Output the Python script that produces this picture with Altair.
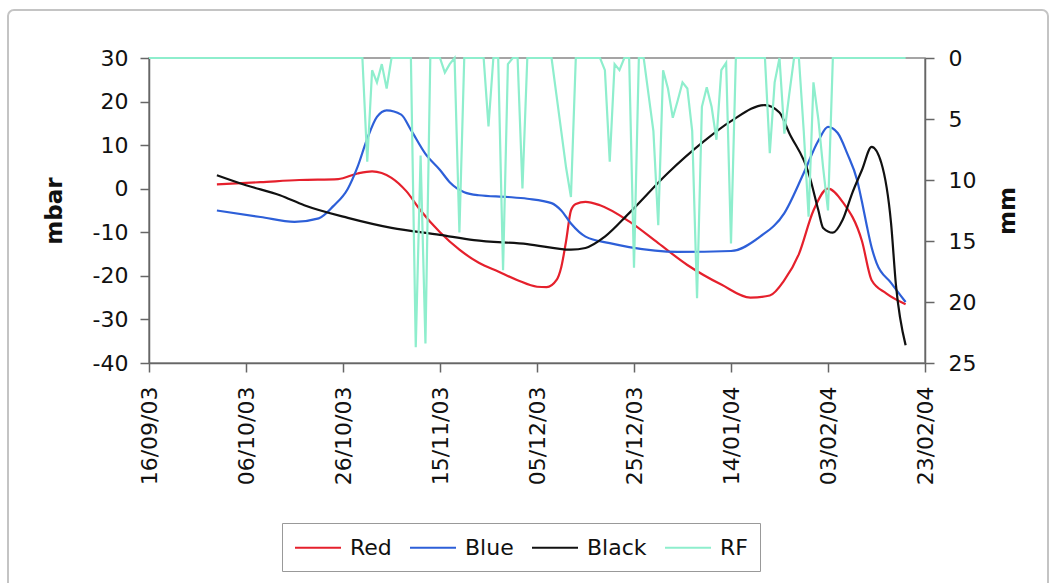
import altair as alt
import pandas as pd

# ---------------- data ----------------
red_dates = ["2003-09-30", "2003-10-09", "2003-10-17", "2003-10-25", "2003-10-29", "2003-11-01",
             "2003-11-05", "2003-11-08", "2003-11-11", "2003-11-15", "2003-11-19", "2003-11-23",
             "2003-11-27", "2003-12-01", "2003-12-05", "2003-12-07", "2003-12-09", "2003-12-10",
             "2003-12-11", "2003-12-12", "2003-12-13", "2003-12-15", "2003-12-18", "2003-12-24",
             "2003-12-30", "2004-01-05", "2004-01-12", "2004-01-18", "2004-01-22", "2004-01-25",
             "2004-01-28", "2004-01-31", "2004-02-03", "2004-02-06", "2004-02-10", "2004-02-12",
             "2004-02-15", "2004-02-19"]
red_vals = [1.0, 1.5, 2.0, 2.2, 3.5, 4.0,
            2.5, -0.5, -5.0, -10.0, -14.0, -17.0,
            -19.0, -21.0, -22.5, -22.6, -21.0, -18.0,
            -12.0, -5.0, -3.5, -3.0, -3.8, -7.5,
            -12.5, -17.5, -22.0, -25.0, -24.5, -21.0,
            -15.0, -5.0, 0.0, -3.0, -12.0, -21.0,
            -24.0, -26.5]

blue_dates = ["2003-09-30", "2003-10-09", "2003-10-16", "2003-10-21", "2003-10-24", "2003-10-27",
              "2003-10-29", "2003-10-31", "2003-11-02", "2003-11-04", "2003-11-07", "2003-11-09",
              "2003-11-12", "2003-11-15", "2003-11-17", "2003-11-20", "2003-11-23", "2003-11-29",
              "2003-12-03", "2003-12-08", "2003-12-10", "2003-12-12", "2003-12-15", "2003-12-20",
              "2003-12-24", "2004-01-03", "2004-01-14", "2004-01-20", "2004-01-25", "2004-01-29",
              "2004-02-01", "2004-02-03", "2004-02-05", "2004-02-07", "2004-02-09", "2004-02-10",
              "2004-02-11", "2004-02-12", "2004-02-13", "2004-02-16", "2004-02-19"]
blue_vals = [-5.0, -6.5, -7.6, -6.8, -4.0, 0.0,
             5.0, 11.5, 16.5, 18.0, 17.0, 13.5,
             8.0, 4.3, 1.5, -0.8, -1.5, -1.9,
             -2.3, -3.3, -5.0, -8.0, -11.0, -12.5,
             -13.4, -14.5, -14.3, -11.0, -5.6, 3.6,
             11.0, 14.2, 12.8, 8.0, 2.0, -3.0,
             -8.5, -13.5, -17.0, -21.6, -26.0]

black_dates = ["2003-09-30", "2003-10-06", "2003-10-13", "2003-10-18", "2003-10-27", "2003-11-05",
               "2003-11-15", "2003-11-22", "2003-12-03", "2003-12-12", "2003-12-15", "2003-12-19",
               "2003-12-24", "2004-01-01", "2004-01-08", "2004-01-14", "2004-01-21", "2004-01-24",
               "2004-01-26", "2004-01-30", "2004-02-01", "2004-02-02", "2004-02-04", "2004-02-06",
               "2004-02-08", "2004-02-10", "2004-02-12", "2004-02-14", "2004-02-16", "2004-02-17",
               "2004-02-19"]
black_vals = [3.1, 0.8, -1.5, -3.8, -6.7, -9.0,
              -10.6, -11.8, -12.7, -14.0, -13.6, -11.0,
              -5.6, 3.6, 10.5, 15.5, 19.2, 17.5,
              12.8, 3.6, -4.9, -9.0, -10.1, -7.2,
              -1.0, 4.3, 9.6, 5.9, -7.9, -22.0,
              -35.9]

# daily rainfall (mm) from 16/09/03 to 19/02/04
rf_start = "2003-09-16"
rf_mm = [0, 0, 0, 0, 0, 0, 0, 0, 0, 0,
         0, 0, 0, 0, 0, 0, 0, 0, 0, 0,
         0, 0, 0, 0, 0, 0, 0, 0, 0, 0,
         0, 0, 0, 0, 0, 0, 0, 0, 0, 0,
         0, 0, 0, 0, 0, 8.5, 1, 2, 0.5, 2.5,
         0, 0, 0, 0, 0, 23.7, 8, 23.4, 0, 0,
         0, 1.2, 0.5, 0, 14.3, 0, 0, 0, 0, 0,
         5.6, 0, 0, 17.4, 0.5, 0, 0, 10.7, 0, 0,
         0, 0, 0, 0, 3, 6, 9, 11.4, 0, 0,
         0, 0, 0, 0, 1, 8.5, 0.5, 1, 0, 0,
         17.2, 0, 0, 3, 6, 13.7, 1, 2.5, 4.9, 3.5,
         2, 2.5, 6, 19.7, 4, 2.4, 4, 6.7, 1, 0.4,
         15.2, 0, 0, 0, 0, 0, 0, 0, 7.8, 2,
         0, 6.2, 3, 0, 0, 6, 13, 2, 5, 9,
         12.5, 0, 0, 0, 0, 0, 0, 0, 0, 0,
         0, 0, 0, 0, 0, 0, 0]

series_names = ["Red", "Blue", "Black", "RF"]
series_colors = ["#e5202c", "#2d5fd8", "#111111", "#8eeecd"]

x_ticks = ["2003-09-16", "2003-10-06", "2003-10-26", "2003-11-15", "2003-12-05",
           "2003-12-25", "2004-01-14", "2004-02-03", "2004-02-23"]
mbar_ticks = [-40, -30, -20, -10, 0, 10, 20, 30]
mm_ticks = [0, 5, 10, 15, 20, 25]

# ---------------- tables ----------------
frames = []
for name, d, v in [("Red", red_dates, red_vals), ("Blue", blue_dates, blue_vals),
                   ("Black", black_dates, black_vals)]:
    frames.append(pd.DataFrame({"date": pd.to_datetime(d), "value": v, "series": name}))
mbar = pd.concat(frames, ignore_index=True)
rf = pd.DataFrame({"date": pd.date_range(rf_start, periods=len(rf_mm), freq="D"),
                   "mm": rf_mm, "series": "RF"})


def dt(s):
    t = pd.Timestamp(s)
    return alt.DateTime(year=t.year, month=t.month, date=t.day)


FONT = "DejaVu Sans"
x_scale = alt.Scale(domain=[dt(x_ticks[0]), dt(x_ticks[-1])])
x_axis = alt.Axis(values=[dt(s) for s in x_ticks], format="%d/%m/%y", labelAngle=-90,
                  title=None, labelPadding=14)

legend = alt.Legend(title=None, orient="none", legendX=133, legendY=465, direction="horizontal",
                    symbolType="M-1,0H3", symbolSize=529, symbolStrokeWidth=2,
                    labelFont=FONT, labelFontSize=22, labelColor="#111", labelOffset=31,
                    columnPadding=14, padding=12, strokeColor="#999", fillColor="white")
color = alt.Color("series:N", scale=alt.Scale(domain=series_names, range=series_colors),
                  legend=legend)

frame = alt.Chart(pd.DataFrame({"k": [0]})).mark_rect(
    fill=None, stroke="#c4c4c4", strokeWidth=2, cornerRadius=6
).encode(x=alt.value(-141), x2=alt.value(899), y=alt.value(-48), y2=alt.value(540))

lines = alt.Chart(mbar).mark_line(strokeWidth=2.2, interpolate="monotone").encode(
    x=alt.X("date:T", scale=x_scale, axis=x_axis),
    y=alt.Y("value:Q", scale=alt.Scale(domain=[-40, 30], nice=False),
            axis=alt.Axis(values=mbar_ticks, title="mbar", orient="left", labelPadding=12,
                          titlePadding=26, labelExpr="datum.value + ''")),
    color=color,
    detail="series:N",
)

rain = alt.Chart(rf).mark_line(strokeWidth=2.2).encode(
    x=alt.X("date:T", scale=x_scale, axis=x_axis),
    y=alt.Y("mm:Q", scale=alt.Scale(domain=[0, 25], reverse=True, nice=False),
            axis=alt.Axis(values=mm_ticks, title="mm", orient="right", labelPadding=14,
                          titlePadding=44, titleAngle=-90)),
    color=color,
)

chart = alt.layer(frame, lines, rain).resolve_scale(y="independent").properties(
    width=776, height=305,
    autosize=alt.AutoSizeParams(type="none"),
    padding={"left": 149, "top": 58, "right": 130, "bottom": 220},
    background="white",
).configure_view(stroke="#888", strokeWidth=1.5).configure_axis(
    labelFont=FONT, labelFontSize=22, labelColor="#111",
    titleFont=FONT, titleFontSize=23, titleFontWeight="bold", titleColor="#111",
    domainColor="#666", domainWidth=1.5, tickColor="#666", tickWidth=1.5, tickSize=9,
    grid=False,
)

chart.save("out.html", embed_options={"renderer": "svg", "actions": False})
